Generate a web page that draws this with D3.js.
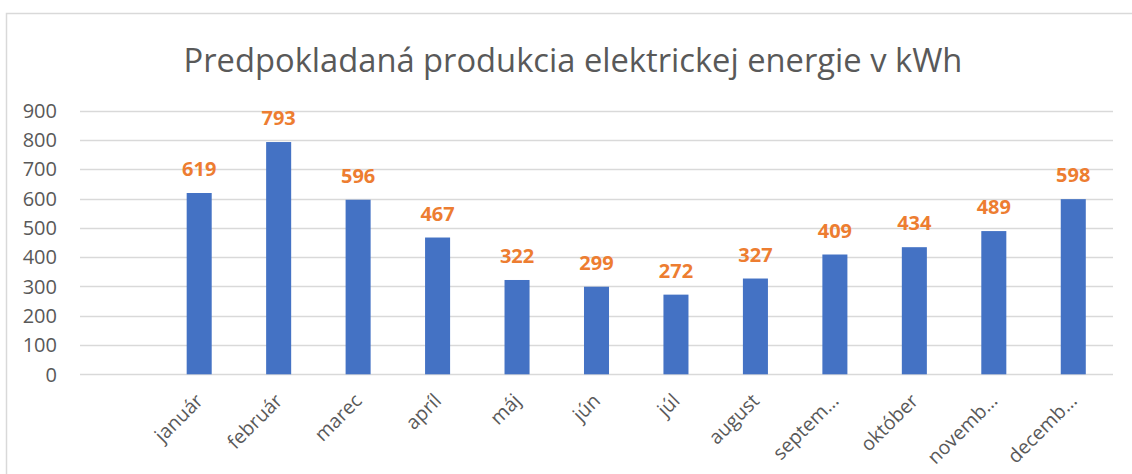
<!DOCTYPE html>
<html>
<head>
<meta charset="utf-8">
<script src="https://cdn.jsdelivr.net/npm/d3@7"></script>
<style>
  html, body { margin: 0; padding: 0; background: #fff; }
  svg { display: block; font-family: "Open Sans", sans-serif; }
  .grid line { stroke: #d9d9d9; stroke-width: 1.3; }
  .ylab { fill: #595959; font-size: 20px; }
  .xlab { fill: #595959; font-size: 19.5px; }
  .val { fill: #ed7d31; font-size: 20px; font-weight: bold; }
  .title { fill: #595959; font-size: 32.7px; }
</style>
</head>
<body>
<div class="chart"></div>
<script>
// first slot is an empty category in the source sheet
const months = ['', 'január', 'február', 'marec', 'apríl', 'máj', 'jún', 'júl', 'august', 'septem…', 'október', 'novemb…', 'decemb…']
const kwh = [null, 619, 793, 596, 467, 322, 299, 272, 327, 409, 434, 489, 598]
const yTicks = [0, 100, 200, 300, 400, 500, 600, 700, 800, 900]
const titleText = 'Predpokladaná produkcia elektrickej energie v kWh'

const width = 1132, height = 474
const plotLeft = 80, plotRight = 1113, plotTop = 110.7, plotBottom = 374.3

const svg = d3.select('.chart').append('svg')
  .attr('width', width)
  .attr('height', height)

svg.append('rect')
  .attr('x', 6.5).attr('y', 13.5)
  .attr('width', 1140).attr('height', 480)
  .attr('fill', 'none')
  .attr('stroke', '#d9d9d9')
  .attr('stroke-width', 1.5)

svg.append('text')
  .attr('class', 'title')
  .attr('x', 573)
  .attr('y', 72)
  .attr('text-anchor', 'middle')
  .text(titleText)

let x = d3.scaleBand()
  .domain(months)
  .range([plotLeft, plotRight])
  .paddingInner(0.685)
  .paddingOuter(0.3425)

let y = d3.scaleLinear()
  .domain([0, 900])
  .range([plotBottom, plotTop])

const grid = svg.append('g').attr('class', 'grid')

grid.selectAll('line')
  .data(yTicks)
  .enter()
  .append('line')
  .attr('x1', plotLeft)
  .attr('x2', plotRight)
  .attr('y1', d => Math.round(y(d)) + 0.5)
  .attr('y2', d => Math.round(y(d)) + 0.5)

svg.append('g').selectAll('text')
  .data(yTicks)
  .enter()
  .append('text')
  .attr('class', 'ylab')
  .attr('x', 57)
  .attr('y', d => y(d))
  .attr('dy', '0.36em')
  .attr('text-anchor', 'end')
  .text(d => d)

const data = months.map((m, i) => ({month: m, value: kwh[i]})).filter(d => d.value != null)

svg.append('g').selectAll('rect')
  .data(data)
  .enter()
  .append('rect')
  .attr('x', d => x(d.month))
  .attr('y', d => y(d.value))
  .attr('width', x.bandwidth())
  .attr('height', d => y(0) - y(d.value))
  .attr('fill', '#4472c4')

svg.append('g').selectAll('text')
  .data(data)
  .enter()
  .append('text')
  .attr('class', 'val')
  .attr('x', d => x(d.month) + x.bandwidth() / 2)
  .attr('y', d => y(d.value) - 17)
  .attr('text-anchor', 'middle')
  .text(d => d.value)

svg.append('g').selectAll('text')
  .data(months.filter(m => m !== ''))
  .enter()
  .append('text')
  .attr('class', 'xlab')
  .attr('text-anchor', 'end')
  .attr('transform', d => 'translate(' + (x(d) + x.bandwidth() / 2 + 5) + ',402) rotate(-45)')
  .text(d => d)
</script>
</body>
</html>
